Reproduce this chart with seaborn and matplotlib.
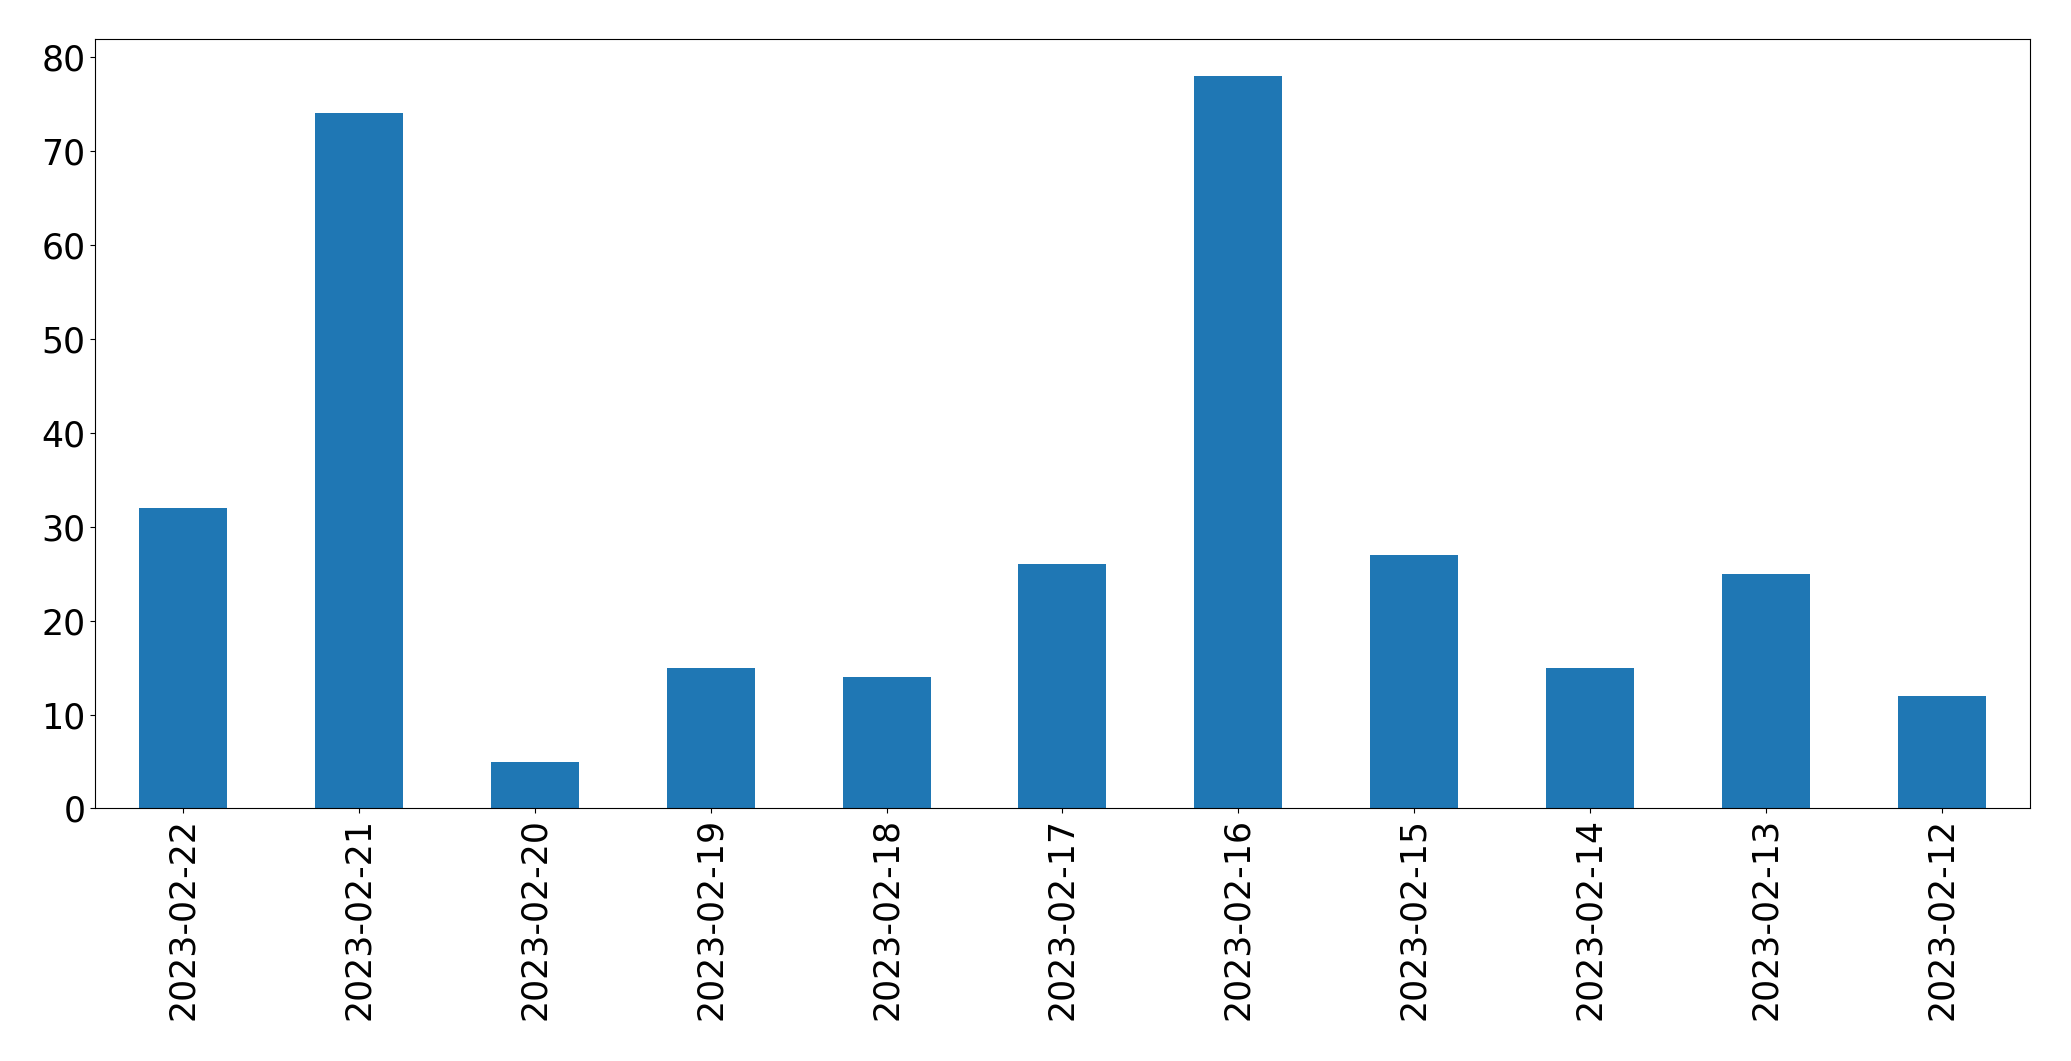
import pandas as pd
import matplotlib
matplotlib.use("Agg")
import matplotlib.pyplot as plt
import seaborn as sns

# Data
dates = ["2023-02-22", "2023-02-21", "2023-02-20", "2023-02-19", "2023-02-18",
         "2023-02-17", "2023-02-16", "2023-02-15", "2023-02-14", "2023-02-13",
         "2023-02-12"]
counts = [32, 74, 5, 15, 14, 26, 78, 27, 15, 25, 12]

df = pd.DataFrame({"date": dates, "count": counts})

fig, ax = plt.subplots(figsize=(20.71, 10.61), dpi=100)
sns.barplot(data=df, x="date", y="count", color="#1f77b4", saturation=1,
            width=0.5, ax=ax)

ax.set_xlim(-0.5, len(dates) - 0.5)
ax.set_ylim(0, max(counts) * 1.05)
ax.set_xlabel("")
ax.set_ylabel("")
ax.tick_params(axis="both", labelsize=25)
ax.tick_params(axis="x", labelrotation=90)

plt.subplots_adjust(left=0.046, right=0.98, top=0.963, bottom=0.238)
plt.savefig("out.png", dpi=100)
plt.close()
